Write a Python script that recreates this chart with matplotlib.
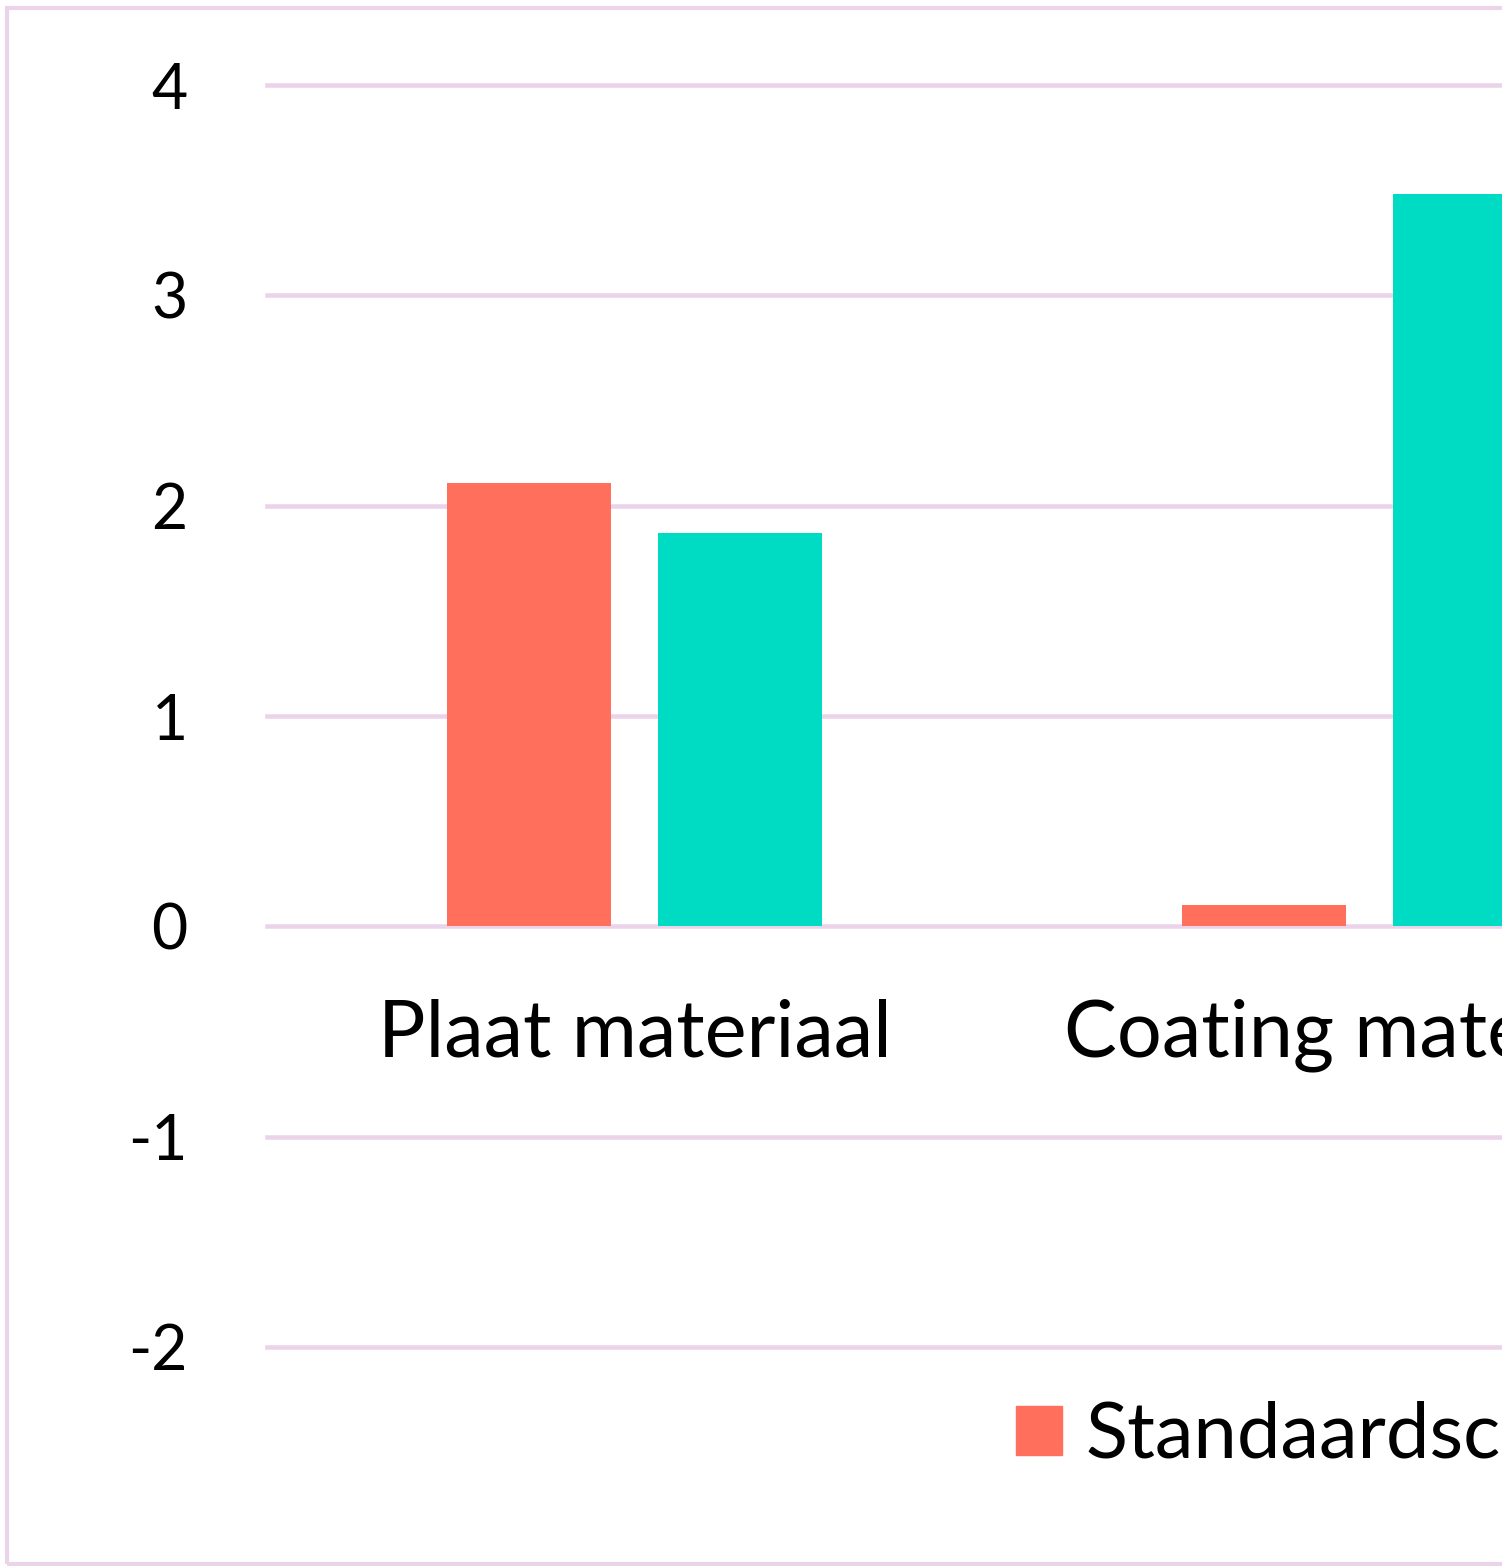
import matplotlib
matplotlib.use("Agg")
import matplotlib.pyplot as plt
from matplotlib.patches import Patch, Rectangle

categories = ["Plaat materiaal", "Coating materiaal"]
series_names = ["Standaardscore", "Standaardscore (2)"]
standaard = [2.11, 0.10]
tweede = [1.87, 3.48]
yticks = [-2, -1, 0, 1, 2, 3, 4]

orange = "#FF6F5C"
teal = "#00DCC4"
pink = "#EBD3EA"

plt.rcParams["font.family"] = ["Lato", "DejaVu Sans"]

W, H = 1502, 1566
fig = plt.figure(figsize=(W / 100, H / 100), dpi=100)

# plot area: left at 267px, one category = 735px wide
ax = fig.add_axes([267 / W, 1 - 1347 / H, 2 * 735 / W, (1347 - 85) / H])
ax.spines["bottom"].set_position(("data", 0))
ax.set_xlim(-0.5, len(categories) - 0.5)
ax.set_ylim(-2, 4)

for y in yticks:
    ax.axhline(y, color=pink, lw=3.3, zorder=0, clip_on=False)

x = range(len(categories))
ax.bar([i - 0.143 for i in x], standaard, width=0.223, color=orange, zorder=2)
ax.bar([i + 0.143 for i in x], tweede, width=0.223, color=teal, zorder=2)

ax.set_yticks(yticks)
ax.set_yticklabels([str(t) for t in yticks], fontsize=45)
ax.tick_params(axis="y", length=0, pad=57)
ax.set_xticks(list(x))
ax.set_xticklabels(categories, fontsize=57)
ax.tick_params(axis="x", length=0, pad=52)
for s in ax.spines.values():
    s.set_visible(False)

handles = [Patch(color=orange), Patch(color=teal)]
fig.legend(handles, series_names, loc="center left", ncol=2,
           bbox_to_anchor=(1016 / W, 1 - 1436 / H), fontsize=56,
           frameon=False, borderpad=0, borderaxespad=0,
           handlelength=0.59, handleheight=0.59, handletextpad=0.3,
           columnspacing=1.0)

fig.patches.append(Rectangle((7 / W, 1 - 1564 / H), 1.2, (1564 - 8) / H,
                             transform=fig.transFigure, fill=False,
                             edgecolor=pink, lw=3))

fig.savefig("out.png", dpi=100)
